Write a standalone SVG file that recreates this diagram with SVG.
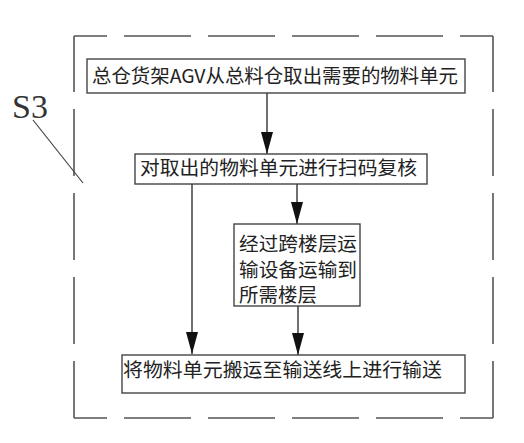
<svg xmlns="http://www.w3.org/2000/svg" width="524" height="443" viewBox="0 0 524 443">
<defs>
<style>
.frame{stroke:#555;stroke-width:1.6;fill:none;stroke-dasharray:67 17}
.box{fill:#fff;stroke:#444;stroke-width:1.4}
.t{font-family:"Noto Sans CJK SC","Noto Sans",sans-serif;font-size:19px;fill:#222}
.c{stroke:#333;stroke-width:1.4;fill:none}
</style>
<marker id="ah" viewBox="0 0 22 12" refX="22" refY="6" markerWidth="22" markerHeight="12" markerUnits="userSpaceOnUse" orient="auto">
<path d="M0,0 L22,6 L0,12 Z" fill="#111"/>
</marker>
</defs>
<rect width="524" height="443" fill="#fff"/>
<g id="frame">
<line class="frame" x1="74" y1="36" x2="493" y2="36" stroke-dashoffset="34"/>
<line class="frame" x1="74" y1="418" x2="493" y2="418" stroke-dashoffset="34"/>
<line class="frame" x1="74" y1="36" x2="74" y2="418" stroke-dashoffset="11"/>
<line class="frame" x1="493" y1="36" x2="493" y2="418" stroke-dashoffset="11"/>
</g>
<g id="label-s3">
<text x="12" y="118" font-family="Liberation Serif,serif" font-size="34" fill="#333">S3</text>
<line x1="33" y1="120" x2="83" y2="183" stroke="#444" stroke-width="1.2"/>
</g>
<g id="connectors">
<line class="c" x1="267" y1="93" x2="267" y2="154" marker-end="url(#ah)"/>
<line class="c" x1="192" y1="184" x2="192" y2="354" marker-end="url(#ah)"/>
<line class="c" x1="297" y1="184" x2="297" y2="224" marker-end="url(#ah)"/>
<line class="c" x1="298" y1="306" x2="298" y2="355" marker-end="url(#ah)"/>
</g>
<g id="node1">
<rect class="box" x="87" y="59" width="378" height="34"/>
<text class="t" x="92" y="83" textLength="366" lengthAdjust="spacingAndGlyphs">总仓货架AGV从总料仓取出需要的物料单元</text>
</g>
<g id="node2">
<rect class="box" x="135" y="154" width="292" height="30"/>
<text class="t" x="140" y="175" textLength="277" lengthAdjust="spacingAndGlyphs">对取出的物料单元进行扫码复核</text>
</g>
<g id="node3">
<rect class="box" x="234" y="224" width="126" height="82"/>
<text class="t" x="239" y="251" textLength="118" lengthAdjust="spacingAndGlyphs">经过跨楼层运</text>
<text class="t" x="239" y="277" textLength="118" lengthAdjust="spacingAndGlyphs">输设备运输到</text>
<text class="t" x="239" y="302" textLength="78" lengthAdjust="spacingAndGlyphs">所需楼层</text>
</g>
<g id="node4">
<rect class="box" x="122" y="355" width="343" height="38"/>
<text class="t" x="123" y="377" textLength="319" lengthAdjust="spacingAndGlyphs">将物料单元搬运至输送线上进行输送</text>
</g>
</svg>
